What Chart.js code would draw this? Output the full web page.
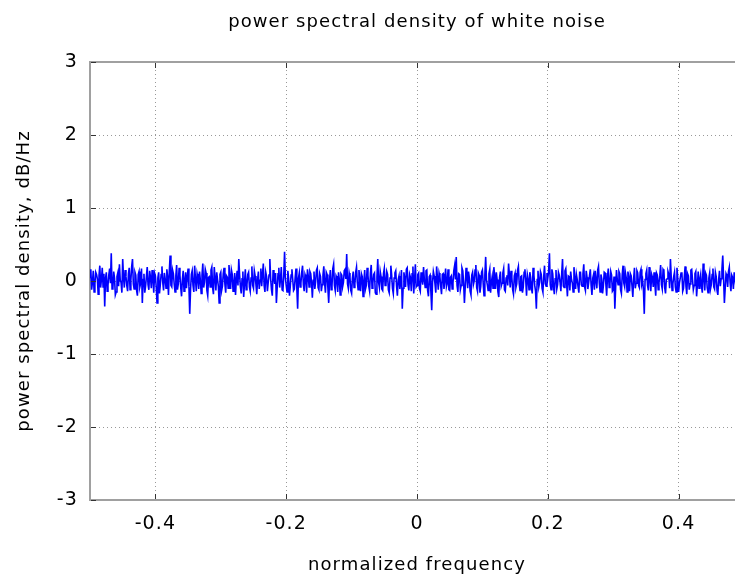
<!DOCTYPE html>
<html>
<head>
<meta charset="utf-8">
<script src="https://cdn.jsdelivr.net/npm/chart.js@4/dist/chart.umd.min.js"></script>
<style>
    html, body { margin: 0; padding: 0; background: #fff; overflow: hidden; }
    /* el original esta recortado por la derecha: el lienzo es mas ancho que la ventana */
    #wrap { width: 834px; height: 576px; }
</style>
</head>
<body>
<div id="wrap"><canvas id="psdChart"></canvas></div>
<script>
// Datos del grafico
const chartTitle = 'power spectral density of white noise';
const xLabel = 'normalized frequency';
const yLabel = 'power spectral density, dB/Hz';
const xTicks = [-0.4, -0.2, 0, 0.2, 0.4];
const yTicks = [-3, -2, -1, 0, 1, 2, 3];
// rango visible del eje x (el borde derecho queda fuera de la ventana)
const xMin = -0.5;
const xMax = 0.6376;

// Bins de frecuencia: inicio y paso
const freqStart = -0.5;
const freqStep = 0.00125;

// Densidad espectral (dB/Hz)
const psdValues = [
    0.05, 0.16, -0.12, -0.02, 0.14, -0.15, -0.04, 0.12, 0.09, 0.03, -0.18, 0.07, 0.21, -0.09, 0.02, 0.18, -0.08, 0.1, -0.35, 0.04,
    0.12, -0.14, -0.06, 0.08, 0.17, -0.03, 0.38, -0.11, -0.1, 0.13, 0.04, -0.19, -0.15, 0.06, 0.11, -0.07, 0.23, 0.01, -0.02, -0.16,
    0.3, 0.05, -0.09, 0.15, 0.06, -0.06, -0.14, 0.1, 0.18, -0.12, 0.01, 0.2, 0.3, -0.04, -0.11, 0.12, 0.08, -0.13, -0.2, 0.09,
    0.13, -0.08, -0.03, 0.17, -0.3, 0.02, 0.1, -0.16, -0.07, 0.06, 0.19, -0.05, -0.12, 0.14, 0.05, -0.1, 0.15, 0.03, -0.16, 0.11,
    0.07, -0.08, -0.3, 0.04, 0.12, -0.17, -0.05, 0.09, 0.2, -0.02, -0.13, 0.11, 0.03, -0.1, 0.16, 0.05, -0.19, 0.13, 0.35, -0.06,
    -0.08, 0.15, 0.1, -0.04, -0.15, 0.07, 0.22, -0.12, -0.04, 0.18, 0.08, -0.09, -0.21, 0.02, 0.14, -0.14, 0.0, 0.12, -0.1, 0.06,
    0.17, -0.07, -0.45, -0.12, 0.09, 0.14, -0.06, -0.15, 0.21, 0.03, -0.14, 0.1, 0.04, -0.11, 0.13, 0.01, -0.17, 0.08, 0.24, -0.09,
    -0.02, 0.16, 0.11, -0.13, -0.2, 0.05, 0.06, -0.08, 0.15, 0.19, -0.09, -0.18, 0.19, 0.04, -0.13, 0.12, 0.02, -0.07, -0.3, 0.09,
    0.12, -0.13, -0.07, 0.1, 0.18, -0.04, -0.16, 0.07, 0.05, -0.1, 0.22, 0.06, -0.11, 0.15, 0.09, -0.14, -0.04, 0.11, -0.19, 0.02,
    0.14, -0.06, 0.3, 0.08, -0.08, -0.17, 0.03, 0.13, -0.22, -0.03, 0.16, -0.12, -0.05, 0.09, 0.12, -0.08, -0.14, 0.04, 0.2, -0.06,
    -0.1, 0.14, 0.07, -0.05, -0.18, 0.02, 0.13, -0.11, 0.01, 0.17, -0.07, 0.09, 0.24, -0.06, -0.15, 0.12, 0.06, -0.14, -0.02, 0.08,
    0.3, 0.03, -0.12, -0.2, 0.15, 0.05, -0.04, 0.11, -0.3, -0.09, 0.1, 0.18, -0.09, 0.02, 0.19, -0.12, -0.13, 0.07, 0.4, 0.05,
    -0.06, -0.15, 0.14, 0.03, -0.2, -0.07, 0.08, 0.16, 0.02, -0.13, -0.11, 0.05, 0.17, -0.1, -0.38, 0.04, 0.11, -0.08, -0.03, 0.12,
    0.21, -0.05, -0.14, 0.09, 0.05, -0.16, 0.16, 0.07, -0.08, 0.13, 0.1, -0.02, -0.23, 0.01, 0.13, -0.11, -0.01, 0.15, 0.18, -0.09,
    -0.12, 0.1, 0.06, -0.14, -0.05, 0.08, 0.2, -0.03, -0.16, 0.12, 0.09, -0.1, -0.3, 0.01, 0.15, -0.12, -0.07, 0.17, 0.23, -0.06,
    -0.13, 0.07, 0.04, -0.15, 0.12, 0.02, -0.19, 0.1, 0.08, -0.08, -0.02, 0.14, 0.16, 0.03, 0.37, -0.04, -0.1, 0.11, 0.05, -0.13,
    -0.17, 0.04, 0.13, -0.09, -0.04, 0.12, 0.19, -0.02, -0.12, 0.15, 0.02, -0.14, 0.1, 0.06, -0.21, -0.01, 0.15, -0.11, -0.06, 0.18,
    0.08, -0.07, -0.14, 0.11, 0.22, -0.1, -0.03, 0.09, 0.11, -0.16, -0.18, 0.05, 0.3, -0.02, -0.09, 0.13, 0.06, -0.11, -0.13, 0.1,
    0.17, -0.06, -0.05, 0.13, 0.09, -0.12, -0.16, 0.04, 0.21, 0.08, -0.1, -0.17, 0.04, 0.11, 0.14, -0.07, -0.2, 0.02, 0.07, -0.11,
    -0.02, 0.15, -0.38, -0.1, 0.12, 0.03, -0.08, 0.16, 0.18, -0.05, -0.13, 0.09, 0.05, -0.14, 0.1, 0.2, -0.17, 0.01, 0.23, -0.08,
    -0.06, 0.09, 0.11, -0.1, -0.14, 0.12, 0.03, -0.05, 0.19, 0.02, -0.09, 0.14, 0.15, -0.13, -0.21, 0.06, 0.08, -0.15, -0.4, -0.02,
    0.13, 0.07, -0.04, -0.16, 0.2, 0.04, -0.12, 0.11, 0.06, -0.07, -0.18, 0.09, 0.1, -0.11, 0.01, 0.17, -0.08, -0.03, 0.16, -0.12,
    -0.13, 0.05, 0.07, -0.11, -0.03, 0.14, 0.21, 0.02, 0.33, -0.06, -0.15, 0.1, 0.09, -0.12, -0.06, 0.18, 0.14, -0.02, -0.3, -0.08,
    0.18, 0.06, -0.1, 0.13, 0.04, -0.14, -0.19, 0.08, 0.12, -0.05, 0.0, 0.15, 0.22, -0.09, -0.14, 0.11, 0.08, -0.16, -0.07, 0.12,
    0.15, -0.04, -0.2, 0.08, 0.33, 0.01, -0.05, -0.13, 0.1, 0.16, -0.16, -0.02, 0.06, -0.1, 0.19, 0.07, -0.11, 0.12, 0.02, -0.15,
    -0.22, 0.05, 0.13, -0.07, -0.03, 0.11, 0.17, -0.12, -0.14, 0.04, 0.08, -0.06, 0.24, 0.09, -0.09, 0.14, 0.05, -0.12, -0.18, 0.07,
    0.11, -0.09, -0.04, 0.15, 0.2, -0.03, -0.13, 0.06, 0.07, -0.16, -0.08, 0.12, 0.16, 0.01, -0.2, 0.09, 0.03, -0.12, 0.12, 0.05,
    -0.1, -0.17, 0.18, 0.08, -0.06, -0.14, -0.38, 0.02, 0.14, -0.08, -0.02, 0.13, 0.09, -0.1, -0.15, 0.06, 0.21, -0.04, -0.07, 0.11,
    0.04, 0.13, 0.38, -0.05, -0.12, 0.16, 0.1, -0.08, -0.18, 0.03, 0.15, -0.11, -0.05, 0.12, 0.08, -0.02, -0.14, 0.1, 0.3, -0.07,
    -0.09, 0.14, 0.17, -0.04, -0.21, 0.07, 0.06, -0.13, 0.13, 0.02, -0.03, -0.15, 0.19, 0.05, -0.11, 0.09, 0.02, -0.08, -0.16, 0.12,
    0.12, -0.05, -0.07, 0.1, 0.23, -0.08, -0.13, 0.14, 0.05, -0.11, -0.02, 0.07, 0.16, -0.06, -0.19, 0.04, 0.09, -0.12, 0.14, 0.01,
    -0.1, 0.15, 0.2, -0.03, -0.15, 0.09, 0.03, -0.17, -0.06, 0.12, 0.11, -0.04, -0.2, 0.06, 0.17, -0.09, -0.04, 0.13, 0.08, -0.14,
    -0.12, 0.06, -0.38, -0.09, 0.15, 0.02, -0.05, 0.13, 0.1, -0.12, -0.17, 0.08, 0.21, -0.03, -0.08, 0.11, 0.04, -0.15, 0.13, 0.05,
    -0.14, 0.1, 0.07, -0.07, -0.22, 0.03, 0.18, -0.1, -0.03, 0.14, 0.11, -0.06, -0.09, 0.12, 0.16, -0.04, 0.01, -0.13, -0.45, 0.02,
    0.1, 0.15, -0.06, -0.13, 0.19, 0.04, -0.14, 0.09, 0.05, -0.08, 0.12, -0.04, -0.2, 0.11, 0.08, -0.12, -0.02, 0.07, 0.22, -0.05,
    -0.11, 0.16, 0.14, -0.09, -0.17, 0.02, 0.03, 0.13, 0.09, -0.1, 0.3, 0.05, -0.13, -0.04, 0.06, 0.12, -0.08, -0.15, 0.18, 0.03,
    -0.15, -0.03, 0.04, 0.11, 0.12, -0.14, -0.1, 0.06, 0.2, -0.07, -0.18, 0.1, 0.07, -0.12, -0.04, 0.15, 0.16, 0.02, -0.12, -0.06,
    0.1, 0.13, -0.21, -0.05, 0.13, -0.1, 0.02, 0.09, -0.07, -0.16, 0.24, 0.06, -0.13, 0.11, 0.08, -0.09, -0.16, 0.04, 0.11, -0.11,
    -0.05, 0.09, 0.17, -0.08, -0.11, 0.12, 0.06, -0.13, -0.19, 0.02, 0.14, -0.07, 0.03, 0.16, 0.35, 0.04, -0.3, -0.1, 0.1, 0.07,
    -0.08, 0.13, 0.19, -0.02, -0.14, 0.08, 0.05, -0.11, 0.12, 0.03, -0.06, 0.1
];

const points = psdValues.map((v, i) => ({ x: freqStart + i * freqStep, y: v }));

const fontFamily = 'DejaVu Sans';
const textSpacing = '1.1px';

// Espaciado de letras (el original esta ensanchado)
const spacingPlugin = {
    id: 'spacing',
    beforeUpdate(chart) { chart.ctx.letterSpacing = textSpacing; },
    beforeDraw(chart) { chart.ctx.letterSpacing = textSpacing; }
};

// Marco superior y marcas de tick hacia dentro (estilo gnuplot)
const framePlugin = {
    id: 'frame',
    afterDraw(chart) {
        const { ctx, chartArea, scales } = chart;
        ctx.save();
        ctx.strokeStyle = '#a0a0a0';
        ctx.lineWidth = 2;
        ctx.beginPath();
        ctx.moveTo(chartArea.left - 1, chartArea.top);
        ctx.lineTo(chartArea.right, chartArea.top);
        ctx.stroke();

        ctx.strokeStyle = '#333';
        ctx.lineWidth = 1;
        ctx.beginPath();
        xTicks.forEach(v => {
            const px = Math.round(scales.x.getPixelForValue(v)) + 0.5;
            ctx.moveTo(px, chartArea.bottom - 1);
            ctx.lineTo(px, chartArea.bottom - 6);
            ctx.moveTo(px, chartArea.top + 1);
            ctx.lineTo(px, chartArea.top + 6);
        });
        yTicks.forEach(v => {
            const py = Math.round(scales.y.getPixelForValue(v)) + 0.5;
            ctx.moveTo(chartArea.left + 1, py);
            ctx.lineTo(chartArea.left + 6, py);
        });
        ctx.stroke();
        ctx.restore();
    }
};

const ctx = document.getElementById('psdChart').getContext('2d');
new Chart(ctx, {
    type: 'line',
    data: {
        datasets: [{
            data: points,
            borderColor: '#0000ff',
            borderWidth: 1.6,
            pointRadius: 0,
            tension: 0,
            fill: false
        }]
    },
    options: {
        responsive: true,
        maintainAspectRatio: false,
        animation: false,
        events: [],
        layout: { padding: 0 },
        plugins: {
            legend: { display: false },
            tooltip: { enabled: false },
            title: {
                display: true,
                text: chartTitle,
                color: '#000',
                font: { family: fontFamily, size: 18, weight: 'normal', lineHeight: 1.2 },
                padding: { top: 12, bottom: 28.4 }
            },
            // etiqueta del eje x como subtitulo inferior, centrada como en el original
            subtitle: {
                display: true,
                position: 'bottom',
                text: xLabel,
                color: '#000',
                font: { family: fontFamily, size: 18, weight: 'normal', lineHeight: 1.2 },
                padding: { top: 10, bottom: 0 }
            }
        },
        scales: {
            x: {
                type: 'linear',
                min: xMin,
                max: xMax,
                afterBuildTicks: (scale) => { scale.ticks = xTicks.map(v => ({ value: v })); },
                afterFit: (scale) => { scale.height = 44.4; },
                ticks: {
                    color: '#000',
                    padding: 13,
                    maxRotation: 0,
                    font: { family: fontFamily, size: 19 },
                    callback: (v) => (v === 0 ? '0' : v.toFixed(1))
                },
                grid: { color: '#999', lineWidth: 1, drawTicks: false },
                border: { display: true, color: '#a0a0a0', width: 2, dash: [1, 3] }
            },
            y: {
                min: -3,
                max: 3,
                afterBuildTicks: (scale) => { scale.ticks = yTicks.map(v => ({ value: v })); },
                afterFit: (scale) => { scale.width = 90; },
                ticks: {
                    color: '#000',
                    padding: 12,
                    font: { family: fontFamily, size: 19 }
                },
                grid: { color: '#999', lineWidth: 1, drawTicks: false },
                border: { display: true, color: '#a0a0a0', width: 2, dash: [1, 3] },
                title: {
                    display: true,
                    text: yLabel,
                    color: '#000',
                    font: { family: fontFamily, size: 18 },
                    padding: { top: 14, bottom: 0 }
                }
            }
        }
    },
    plugins: [spacingPlugin, framePlugin]
});
</script>
</body>
</html>
